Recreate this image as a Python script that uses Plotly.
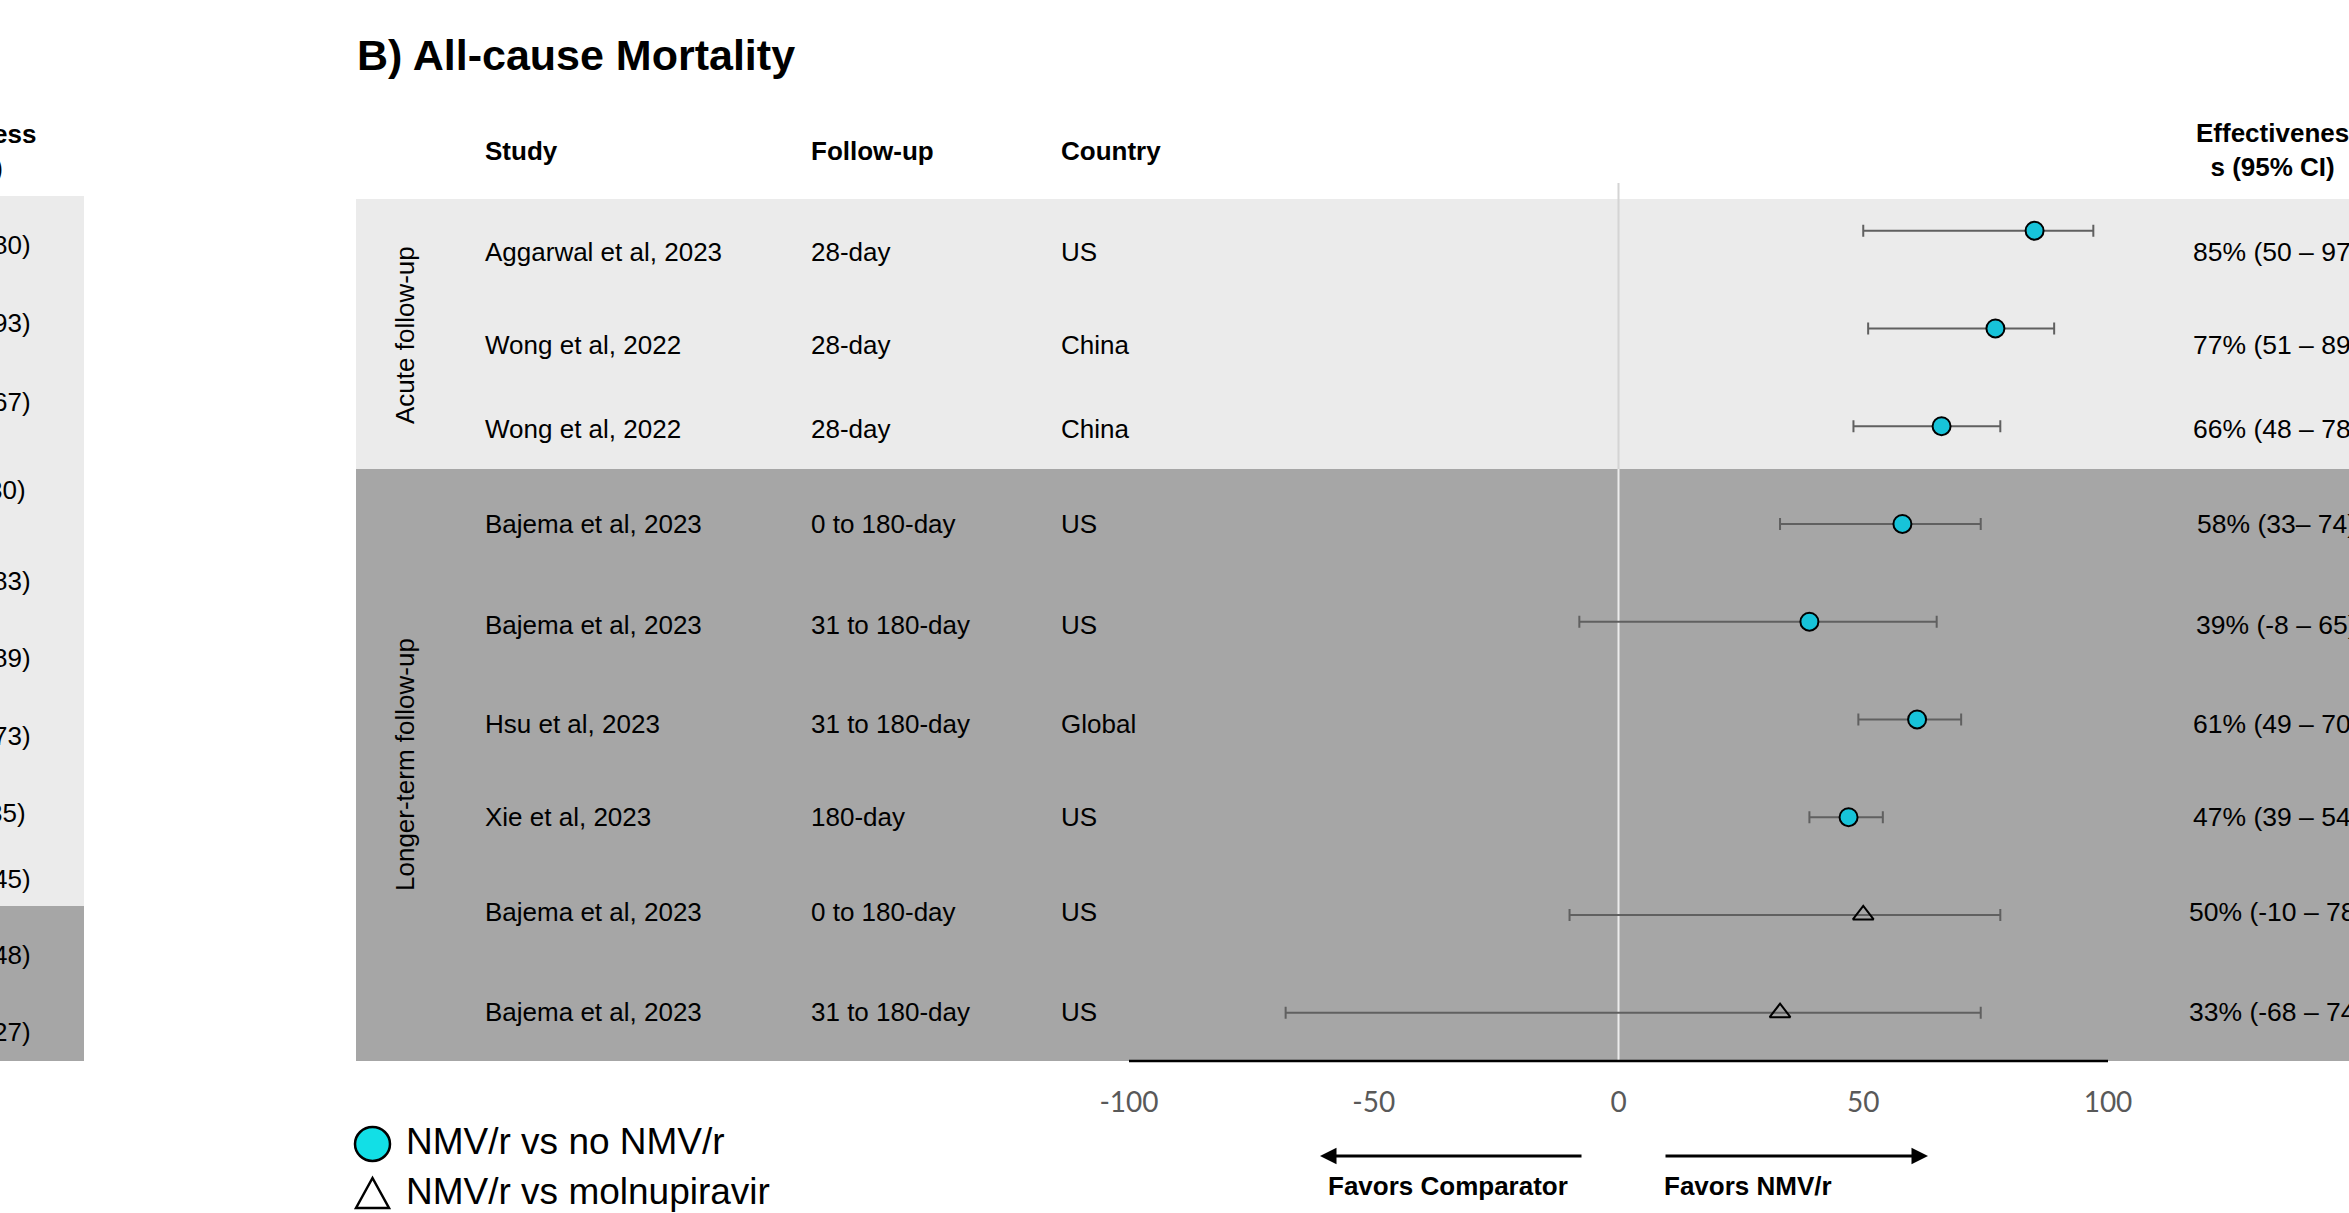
import plotly.graph_objects as go

# ---------------- data ----------------
studies = ["Aggarwal et al, 2023", "Wong et al, 2022", "Wong et al, 2022",
           "Bajema et al, 2023", "Bajema et al, 2023", "Hsu et al, 2023",
           "Xie et al, 2023", "Bajema et al, 2023", "Bajema et al, 2023"]
followup = ["28-day", "28-day", "28-day", "0 to 180-day", "31 to 180-day",
            "31 to 180-day", "180-day", "0 to 180-day", "31 to 180-day"]
country = ["US", "China", "China", "US", "US", "Global", "US", "US", "US"]
effect = [85, 77, 66, 58, 39, 61, 47, 50, 33]
ci_low = [50, 51, 48, 33, -8, 49, 39, -10, -68]
ci_high = [97, 89, 78, 74, 65, 70, 54, 78, 74]
ci_text = ["85% (50 – 97)", "77% (51 – 89)", "66% (48 – 78)", "58% (33– 74)",
           "39% (-8 – 65)", "61% (49 – 70)", "47% (39 – 54)", "50% (-10 – 78)",
           "33% (-68 – 74)"]
comparison = ["NMV/r vs no NMV/r"] * 7 + ["NMV/r vs molnupiravir"] * 2
group_names = ["Acute follow-up", "Longer-term follow-up"]
x_ticks = [-100, -50, 0, 50, 100]
headers = ["Study", "Follow-up", "Country"]
title = "B) All-cause Mortality"
# fragments of the neighbouring panel (A) visible at the left edge
panelA_tail = ["80)", "93)", "67)", "30)", "83)", "89)", "73)", "35)", "45)", "48)", "27)"]

# ---------------- layout helpers ----------------
W, H = 2349, 1213
TOP, BOT = 183, 1061          # plot-area top / bottom in pixels
FONT = "Liberation Sans, Arial, sans-serif"
TICKFONT = "Lato, Liberation Sans, sans-serif"
LIGHT, DARK = "#ebebeb", "#a6a6a6"

def px(x):
    return x / W

def py(y):
    return (BOT - y) / (BOT - TOP)

rows = list(range(len(studies)))
label_offsets = [0.22, 0.17, 0.03, 0.0, 0.03, 0.05, 0.0, -0.03, -0.01]
label_y = [r + o for r, o in zip(rows, label_offsets)]

fig = go.Figure()

symbols = {"NMV/r vs no NMV/r": dict(symbol="circle", size=18, color="#17c3d9",
                                     line=dict(color="black", width=2)),
           "NMV/r vs molnupiravir": dict(symbol="triangle-up-open", size=18, color="black",
                                         line=dict(color="black", width=2))}
for comp in ["NMV/r vs no NMV/r", "NMV/r vs molnupiravir"]:
    idx = [i for i in rows if comparison[i] == comp]
    fig.add_trace(go.Scatter(
        x=[effect[i] for i in idx], y=[rows[i] for i in idx], mode="markers",
        name=comp, marker=symbols[comp],
        error_x=dict(type="data", symmetric=False,
                     array=[ci_high[i] - effect[i] for i in idx],
                     arrayminus=[effect[i] - ci_low[i] for i in idx],
                     color="#606060", thickness=2, width=6),
        showlegend=False, hoverinfo="skip"))

shapes = []
# panel B backgrounds
shapes.append(dict(type="rect", xref="paper", yref="paper", x0=px(356), x1=1,
                   y0=py(469), y1=py(199), fillcolor=LIGHT, line_width=0, layer="below"))
shapes.append(dict(type="rect", xref="paper", yref="paper", x0=px(356), x1=1,
                   y0=py(1061), y1=py(469), fillcolor=DARK, line_width=0, layer="below"))
# neighbouring panel remnant
shapes.append(dict(type="rect", xref="paper", yref="paper", x0=0, x1=px(84),
                   y0=py(906), y1=py(196), fillcolor=LIGHT, line_width=0, layer="below"))
shapes.append(dict(type="rect", xref="paper", yref="paper", x0=0, x1=px(84),
                   y0=py(1061), y1=py(906), fillcolor=DARK, line_width=0, layer="below"))
# zero reference line
shapes.append(dict(type="line", xref="x", yref="paper", x0=0, x1=0, y0=py(469), y1=py(183),
                   line=dict(color="#d4d4d4", width=2), layer="below"))
shapes.append(dict(type="line", xref="x", yref="paper", x0=0, x1=0, y0=py(1061), y1=py(469),
                   line=dict(color="#ececec", width=2), layer="below"))
# axis baseline
shapes.append(dict(type="line", xref="x", yref="paper", x0=x_ticks[0], x1=x_ticks[-1],
                   y0=py(1061), y1=py(1061), line=dict(color="black", width=2.5)))
# legend symbols
shapes.append(dict(type="circle", xref="paper", yref="paper", x0=px(355), x1=px(390),
                   y0=py(1161), y1=py(1127), fillcolor="#12dfe6",
                   line=dict(color="black", width=2.5)))
shapes.append(dict(type="path", xref="paper", yref="paper",
                   path=f"M {px(356)},{py(1208)} L {px(372.5)},{py(1178)} L {px(389)},{py(1208)} Z",
                   fillcolor="white", line=dict(color="black", width=2.5)))

ann = []
ann.append(dict(text=f"<b>{title}</b>", xref="paper", yref="paper", x=px(355), y=py(55),
                xanchor="left", yanchor="middle", showarrow=False,
                font=dict(family=FONT, size=43, color="black")))
for h, xp in zip(headers, [483, 809, 1059]):
    ann.append(dict(text=f"<b>{h}</b>", xref="paper", yref="paper", x=px(xp), y=py(151),
                    xanchor="left", yanchor="middle", showarrow=False,
                    font=dict(family=FONT, size=26, color="black")))
ann.append(dict(text="<b>Effectivenes<br>s (95% CI)</b>", xref="paper", yref="paper",
                x=px(2272), y=py(150), xanchor="center", yanchor="middle", showarrow=False,
                align="center", font=dict(family=FONT, size=26, color="black")))
for i in rows:
    for txt, xp in [(studies[i], 483), (followup[i], 809), (country[i], 1059)]:
        ann.append(dict(text=txt, xref="paper", yref="y", x=px(xp), y=label_y[i],
                        xanchor="left", yanchor="middle", showarrow=False,
                        font=dict(family=FONT, size=26, color="black")))
    ann.append(dict(text=ci_text[i], xref="paper", yref="y", x=px(2276), y=label_y[i],
                    xanchor="center", yanchor="middle", showarrow=False,
                    font=dict(family=FONT, size=26.5, color="black")))
# group labels
for g, yc in zip(group_names, [335, 765]):
    ann.append(dict(text=g, xref="paper", yref="paper", x=px(405), y=py(yc), textangle=-90,
                    xanchor="center", yanchor="middle", showarrow=False,
                    font=dict(family=FONT, size=26, color="black")))
# neighbouring panel fragments
ann.append(dict(text="<b>ess</b>", xref="paper", yref="paper", x=px(38), y=py(134),
                xanchor="right", yanchor="middle", showarrow=False,
                font=dict(family=FONT, size=26, color="black")))
ann.append(dict(text="<b>)</b>", xref="paper", yref="paper", x=px(5), y=py(168),
                xanchor="right", yanchor="middle", showarrow=False,
                font=dict(family=FONT, size=26, color="black")))
tail_y = [245, 323, 402, 490, 581, 658, 736, 813, 879, 955, 1032]
tail_x = [33, 33, 33, 28, 33, 33, 33, 28, 33, 33, 33]
for t, yy, xx in zip(panelA_tail, tail_y, tail_x):
    ann.append(dict(text=t, xref="paper", yref="paper", x=px(xx), y=py(yy),
                    xanchor="right", yanchor="middle", showarrow=False,
                    font=dict(family=FONT, size=26, color="black")))
# legend texts
for name, yy in zip(["NMV/r vs no NMV/r", "NMV/r vs molnupiravir"], [1141, 1191]):
    ann.append(dict(text=name, xref="paper", yref="paper", x=px(404), y=py(yy),
                    xanchor="left", yanchor="middle", showarrow=False,
                    font=dict(family=FONT, size=37, color="black")))
# favour arrows
ann.append(dict(text="", xref="paper", yref="paper", x=px(1320), y=py(1156),
                ax=263, ay=0, axref="pixel", ayref="pixel", showarrow=True,
                arrowhead=2, arrowsize=1.1, arrowwidth=3, arrowcolor="black"))
ann.append(dict(text="", xref="paper", yref="paper", x=px(1928), y=py(1156),
                ax=-264, ay=0, axref="pixel", ayref="pixel", showarrow=True,
                arrowhead=2, arrowsize=1.1, arrowwidth=3, arrowcolor="black"))
ann.append(dict(text="<b>Favors Comparator</b>", xref="paper", yref="paper", x=px(1448),
                y=py(1186), xanchor="center", yanchor="middle", showarrow=False,
                font=dict(family=FONT, size=26, color="black")))
ann.append(dict(text="<b>Favors NMV/r</b>", xref="paper", yref="paper", x=px(1662),
                y=py(1186), xanchor="left", yanchor="middle", showarrow=False,
                font=dict(family=FONT, size=26, color="black")))

scale = 4.895
zero_px = 1618.5
fig.update_layout(
    width=W, height=H,
    margin=dict(l=0, r=0, t=TOP, b=H - BOT, pad=0),
    paper_bgcolor="white", plot_bgcolor="rgba(0,0,0,0)",
    showlegend=False,
    shapes=shapes, annotations=ann,
    xaxis=dict(range=[-zero_px / scale, (W - zero_px) / scale], showgrid=False,
               zeroline=False, showline=False, tickmode="array", tickvals=x_ticks,
               ticktext=[str(v) for v in x_ticks], ticks="outside", ticklen=16,
               tickcolor="rgba(0,0,0,0)", automargin=False,
               tickfont=dict(family=TICKFONT, size=28, color="#595959"), fixedrange=True),
    yaxis=dict(range=[8.494, -0.488], visible=False, fixedrange=True, automargin=False),
)

fig.write_html("out.html", config={"displayModeBar": False},
               post_script="document.body.style.margin='0';document.body.style.overflow='hidden';")
